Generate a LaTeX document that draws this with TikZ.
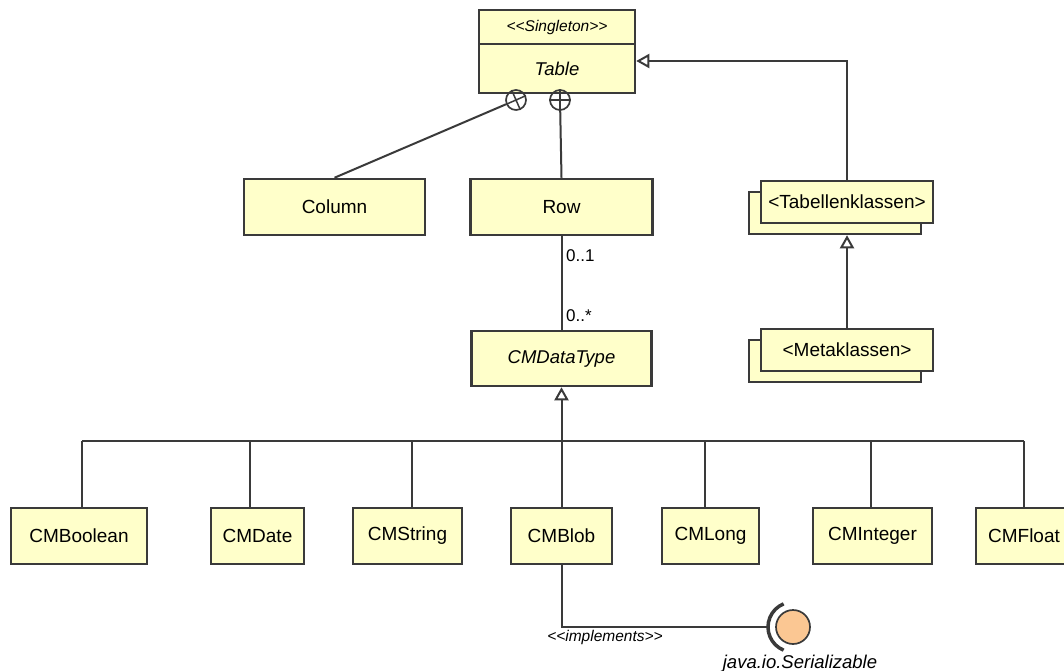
\documentclass[tikz,border=0pt]{standalone}
\usepackage{fontspec}
\setmainfont{Liberation Sans}
\usetikzlibrary{arrows.meta,calc}
\definecolor{clsfill}{HTML}{FFFFCA}
\definecolor{clsline}{HTML}{3A3A3A}
\definecolor{ballfill}{HTML}{FBC793}
\tikzset{
	cls/.style={draw=clsline, fill=clsfill, line width=2.5pt, inner sep=0pt, font=\fontsize{19}{22}\selectfont},
	clsit/.style={cls, font=\itshape\fontsize{18.5}{22}\selectfont},
	conn/.style={draw=clsline, line width=2pt},
	gen/.style={conn, -{Triangle[open, length=13pt, width=14pt]}},
	knob/.style={circle, draw=clsline, line width=1.7pt, minimum size=20pt, inner sep=0pt},
	lbl/.style={inner sep=0pt, text=black}
}

\begin{document}
\begin{tikzpicture}[x=1pt, y=-1pt]
		%%%%% START %%%%%
		\useasboundingbox (0,0) rectangle (1064,671);
		
		\node[cls, minimum width=156pt, minimum height=34pt, font=\itshape\fontsize{15.5}{18}\selectfont] (stereo) at (557,27) {<{}<Singleton>{}>};
		\node[clsit, minimum width=156pt, minimum height=49pt] (table) at (557,68.5) {Table};
		
		\node[cls, minimum width=181pt, minimum height=56pt] (column) at (334.5,207) {Column};
		\node[cls, minimum width=182pt, minimum height=56pt] (row) at (561.5,207) {Row};
		
		\node[cls, minimum width=172pt, minimum height=42pt] (tabkback) at (835,213) {};
		\node[cls, minimum width=172pt, minimum height=42pt] (tabk) at (847,202) {<Tabellenklassen>};
		\node[cls, minimum width=172pt, minimum height=42pt] (metakback) at (835,361) {};
		\node[cls, minimum width=172pt, minimum height=42pt] (metak) at (847,350) {<Metaklassen>};
		
		\node[clsit, minimum width=180pt, minimum height=55pt] (dtype) at (561.5,358.5) {CMDataType};
		
		\node[cls, minimum width=136pt, minimum height=56pt] (cmbool) at (79,536) {CMBoolean};
		\node[cls, minimum width=93pt, minimum height=56pt] (cmdate) at (257.5,536) {CMDate};
		\node[cls, minimum width=109pt, minimum height=56pt] (cmstr) at (407.5,536) {CMString};
		\node[cls, minimum width=101pt, minimum height=56pt] (cmblob) at (561.5,536) {CMBlob};
		\node[cls, minimum width=97pt, minimum height=56pt] (cmlong) at (710.5,536) {CMLong};
		\node[cls, minimum width=119pt, minimum height=56pt] (cmint) at (872.5,536) {CMInteger};
		\node[cls, minimum width=96pt, minimum height=56pt] (cmfloat) at (1024,536) {CMFloat};
		
		% nesting
		\node[knob, rotate=23.7] (colknob) at (516,100) {};
		\draw[conn, line width=1.5pt] (colknob.north) -- (colknob.south) (colknob.east) -- (colknob.west);
		\draw[conn] (column.north) -- (colknob);
		\node[knob] (rowknob) at (560,100) {};
		\draw[conn, line width=1.5pt] (rowknob.north) -- (rowknob.south) (rowknob.east) -- (rowknob.west);
		\draw[conn] (row.north) -- (rowknob);
		
		\draw[gen] (tabk.north) |- ([yshift=7.5pt]table.east);
		\draw[gen] (metak.north) -- (metak.north |- tabkback.south);
		
		\draw[conn] (row.south) -- (dtype.north);
		\node[lbl, anchor=west, font=\fontsize{17}{20}\selectfont] (multone) at (566,256) {0..1};
		\node[lbl, anchor=west, font=\fontsize{17}{20}\selectfont] (multmany) at (566,316) {0..*};
		
		% subtypes
		\foreach \n/\x in {cmbool/82, cmdate/250, cmstr/412, cmblob/561.5, cmlong/705, cmint/871, cmfloat/1024}{
			\coordinate (bus-\n) at (\x,441);
			\draw[conn] (bus-\n) -- (bus-\n |- \n.north);
		}
		\draw[conn] (bus-cmbool) -- (bus-cmfloat);
		\draw[gen] (bus-cmblob) -- (dtype.south);
		
		% interface
		\node[circle, draw=clsline, line width=1.7pt, fill=ballfill, minimum size=34pt, inner sep=0pt] (serial) at (793,627) {};
		\draw[draw=clsline, line width=3.5pt] (serial.center) ++(112:25) arc (112:248:25);
		\path (serial.center) ++(-25,0) coordinate (socket);
		\draw[conn] (cmblob.south) |- (socket);
		\node[lbl, font=\itshape\fontsize{15.5}{18}\selectfont] (impl) at (605,637) {<{}<implements>{}>};
		\node[lbl, anchor=base, font=\itshape\fontsize{18.5}{22}\selectfont] (serialname) at (800,668) {java.io.Serializable};
		
		%%%%% END %%%%%
	\end{tikzpicture}
\end{document}
